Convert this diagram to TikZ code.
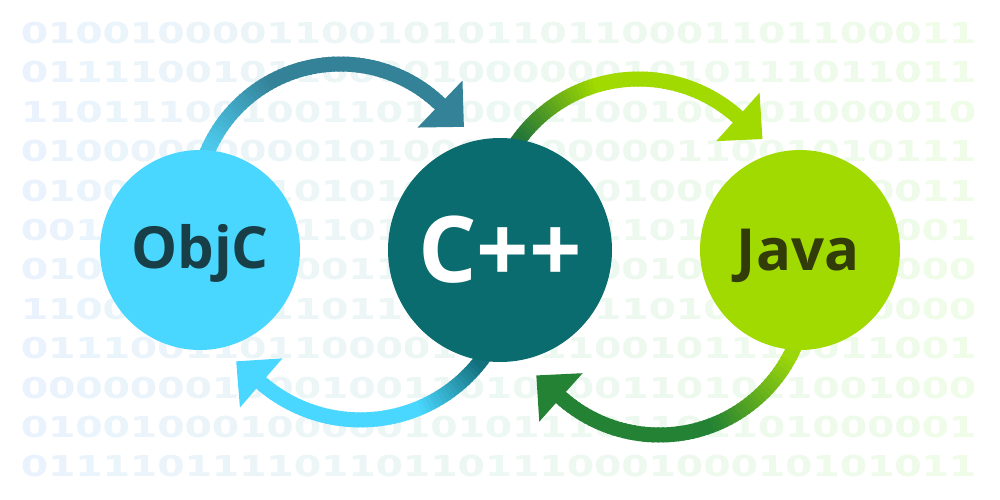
\documentclass[tikz,border=0pt]{standalone}
\usepackage{fontspec}
\usetikzlibrary{calc}
\newfontfamily\labfont{Open Sans}
\newfontfamily\digfont{DejaVu Sans}
\definecolor{dgB}{RGB}{234,243,253}
\definecolor{dgG}{RGB}{239,252,232}
\definecolor{objccol}{RGB}{74,215,255}
\definecolor{cppcol}{RGB}{10,108,110}
\definecolor{javacol}{RGB}{160,218,0}
\definecolor{objctext}{RGB}{24,62,71}
\definecolor{javatext}{RGB}{50,60,8}
\definecolor{aOneS}{RGB}{76,200,235}
\definecolor{aOneM}{RGB}{52,130,152}
\definecolor{aTwoS}{RGB}{38,120,55}
\definecolor{aTwoM}{RGB}{160,218,0}
\definecolor{aThrS}{RGB}{20,112,125}
\definecolor{aThrM}{RGB}{74,215,255}
\definecolor{aFouS}{RGB}{155,214,10}
\definecolor{aFouM}{RGB}{35,130,52}
\tikzset{
  digit/.style={anchor=base, inner sep=0pt, font=\digfont\bfseries\fontsize{28.8}{30}\selectfont},
  bubble/.style={circle, inner sep=0pt, draw=none},
  lab/.style={anchor=base, inner sep=0pt},
}
\def\parsedigits#1{%
  \ifx#1\relax\else
    \pgfmathsetmacro\xx{34.5+27.3*\dcol}%
    \pgfmathsetmacro\yy{33+39.4*\r}%
    \pgfmathtruncatemacro\hid{(veclen(\xx-200,\yy-250)<84)+(veclen(\xx-500,\yy-250)<96)+(veclen(\xx-800,\yy-250)<84)}%
    \ifnum\hid=0
      \pgfmathtruncatemacro\pp{100-100*\dcol/34}%
      \node[digit, text={dgB!\pp!dgG}] (d\r-\dcol) at (\xx,\yy+10.5) {\scalebox{1.37}[1]{#1}};%
    \fi
    \pgfmathtruncatemacro\dcol{\dcol+1}%
    \expandafter\parsedigits
  \fi}
% #1 centre, #2 radius, #3 start angle, #4 end angle, #5 start colour, #6 main colour, #7 t0, #8 t1
\newcommand\gradarc[8]{%
  \foreach \k in {0,...,59}{%
    \pgfmathsetmacro\angA{#3+(#4-#3)*\k/60}%
    \pgfmathsetmacro\angB{#3+(#4-#3)*(\k+1)/60+(#4-#3)*0.006}%
    \pgfmathsetmacro\gt{(\k+0.5)/60}%
    \pgfmathtruncatemacro\pp{100*max(0,min(1,(\gt-#7)/(#8-#7)))}%
    \draw[line width=15pt, draw={#6!\pp!#5}] ($(#1)+(\angA:#2)$) arc[start angle=\angA, end angle=\angB, radius=#2];
  }}
% #1 centre, #2 radius, #3 end angle, #4 colour, #5 name
\newcommand\arrowhead[5]{%
  \coordinate (#5) at ($(#1)+(#3:#2)$);
  \fill[#4] ($(#5)+(#3:32.5)$) -- ($(#5)+({#3+90}:33)$) -- ($(#5)+({#3+180}:32.5)$) -- cycle;}
\begin{document}
\begin{tikzpicture}[x=1pt,y=-1pt]
\useasboundingbox (0,0) rectangle (1000,500);
\fill[white] (0,0) rectangle (1000,500);
% background binary
\foreach \r/\s in {
 0/01001000011001010110110001101100011,
 1/01111001011000010000001010111011011,
 2/11011100100110110001100100001000010,
 3/01000000000101000000000011001010111,
 4/01000011010101011001101000110100011,
 5/00110110111101001011011010010100001,
 6/01011010010011010110000101101010000,
 7/11000101111011100101111010011010000,
 8/01110011011000010111100101110011001,
 9/00000001000100110101001101011001000,
 10/01001000100000101011101101101000001,
 11/01111011110110110111000100010101011}{%
  \def\dcol{0}\expandafter\parsedigits\s\relax
}
% arc centres
\coordinate (c1) at (340.2,208.5);
\coordinate (c2) at (638.7,227.5);
\coordinate (c3) at (360.5,267.9);
\coordinate (c4) at (659.3,287.4);
% arrows
\gradarc{c1}{144.5}{-163}{-46.3}{aOneS}{aOneM}{0.08}{0.38}
\arrowhead{c1}{144.5}{-46.3}{aOneM}{e1}
\gradarc{c2}{148.5}{-150}{-48.1}{aTwoS}{aTwoM}{0.08}{0.42}
\arrowhead{c2}{148.5}{-48.1}{aTwoM}{e2}
\gradarc{c3}{152}{30}{130.8}{aThrS}{aThrM}{0.09}{0.37}
\arrowhead{c3}{152}{130.8}{aThrM}{e3}
\gradarc{c4}{147.6}{18}{131.8}{aFouS}{aFouM}{0.09}{0.45}
\arrowhead{c4}{147.6}{131.8}{aFouM}{e4}
% circles
\node[bubble, fill=objccol, minimum size=200pt] (objc) at (200,250) {};
\node[bubble, fill=cppcol, minimum size=224pt] (cpp) at (500,250) {};
\node[bubble, fill=javacol, minimum size=200pt] (java) at (800,250) {};
% labels
\node[lab, text=objctext, font=\labfont\bfseries\fontsize{58}{60}\selectfont] (objcl) at (200,268) {ObjC};
\node[lab, text=white, font=\labfont\bfseries\fontsize{92}{96}\selectfont] (cppl) at (500,282) {C++};
\node[lab, text=javatext, font=\labfont\bfseries\fontsize{58}{60}\selectfont] (javal) at (798,270) {Java};
\end{tikzpicture}
\end{document}
